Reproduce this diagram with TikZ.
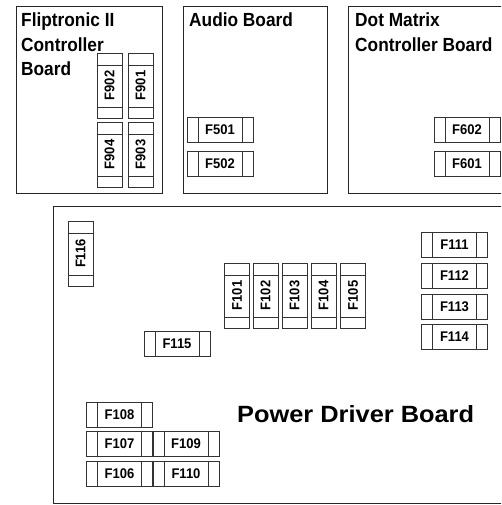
\documentclass[tikz,border=0pt]{standalone}
\usepackage{fontspec}
\usepackage{graphicx}
\setmainfont{Liberation Sans}
\newcommand\fl[1]{\scalebox{0.93}[1]{#1}}
\newcommand\vl[1]{\rotatebox{90}{\scalebox{0.93}[1]{#1}}}
\newcommand\boardtext[1]{\scalebox{0.91}[1]{\begin{tabular}[t]{@{}l@{}}#1\end{tabular}}}
\tikzset{
  board/.style={draw=black!85, line width=0.9pt},
  boardlabel/.style={anchor=base west, inner sep=0pt, font=\fontsize{19}{24.5}\selectfont\bfseries},
  fuse/.style={draw=black!80, line width=0.7pt, inner sep=0pt, fill=white,
    font=\fontsize{14}{14}\selectfont\bfseries},
  hfuse/.style={fuse, minimum width=66pt, minimum height=25pt,
    path picture={
      \draw[black!80, line width=0.7pt] ([xshift=11pt]path picture bounding box.north west) -- ([xshift=11pt]path picture bounding box.south west);
      \draw[black!80, line width=0.7pt] ([xshift=-11pt]path picture bounding box.north east) -- ([xshift=-11pt]path picture bounding box.south east);
    }},
  vfuse/.style={fuse, minimum width=25pt, minimum height=65pt,
    path picture={
      \draw[black!80, line width=0.7pt] ([yshift=-12pt]path picture bounding box.north west) -- ([yshift=-12pt]path picture bounding box.north east);
      \draw[black!80, line width=0.7pt] ([yshift=11pt]path picture bounding box.south west) -- ([yshift=11pt]path picture bounding box.south east);
    }},
}
\begin{document}
\begin{tikzpicture}[x=1pt, y=-1pt]
\clip (0,0) rectangle (501,505);
\fill[white] (0,0) rectangle (501,505);
% boards
\draw[board] (16,6) rectangle (162,193);
\draw[board] (183,6) rectangle (327,193);
\draw[board] (348,6) rectangle (520,193);
\draw[board] (53,206) rectangle (520,503);
% board labels
\node[boardlabel] (flip) at (21,27) {\boardtext{Fliptronic II\\Controller\\Board}};
\node[boardlabel] (audio) at (189,27) {\boardtext{Audio Board}};
\node[boardlabel] (dmd) at (355,27) {\boardtext{Dot Matrix\\Controller Board}};
\node[anchor=base west, inner sep=0pt, font=\fontsize{23.5}{28}\selectfont\bfseries] (power) at (237,422) {\scalebox{1.08}[1]{Power Driver Board}};
% Fliptronic fuses
\node[vfuse] (f902) at (109.5,85.5) {\vl{F902}};
\node[vfuse] (f901) at (140.5,85.5) {\vl{F901}};
\node[vfuse] (f904) at (109.5,154.5) {\vl{F904}};
\node[vfuse] (f903) at (140.5,154.5) {\vl{F903}};
% Audio fuses
\node[hfuse] (f501) at (220,129.5) {\fl{F501}};
\node[hfuse] (f502) at (220,163.5) {\fl{F502}};
% Dot matrix fuses
\node[hfuse] (f602) at (467,129.5) {\fl{F602}};
\node[hfuse] (f601) at (467,163.5) {\fl{F601}};
% Power driver fuses
\node[vfuse] (f116) at (80.5,253.5) {\vl{F116}};
\node[vfuse] (f101) at (237,295.5) {\vl{F101}};
\node[vfuse] (f102) at (265.5,295.5) {\vl{F102}};
\node[vfuse] (f103) at (294.5,295.5) {\vl{F103}};
\node[vfuse] (f104) at (323.5,295.5) {\vl{F104}};
\node[vfuse] (f105) at (353,295.5) {\vl{F105}};
\node[hfuse] (f111) at (454.5,245) {\fl{F111}};
\node[hfuse] (f112) at (454.5,275.5) {\fl{F112}};
\node[hfuse] (f113) at (454.5,306.5) {\fl{F113}};
\node[hfuse] (f114) at (454.5,336.5) {\fl{F114}};
\node[hfuse] (f115) at (177,344) {\fl{F115}};
\node[hfuse] (f108) at (119.5,414.5) {\fl{F108}};
\node[hfuse] (f107) at (119.5,444) {\fl{F107}};
\node[hfuse] (f106) at (119.5,474) {\fl{F106}};
\node[hfuse] (f109) at (186,444) {\fl{F109}};
\node[hfuse] (f110) at (186,474) {\fl{F110}};
\end{tikzpicture}
\end{document}
